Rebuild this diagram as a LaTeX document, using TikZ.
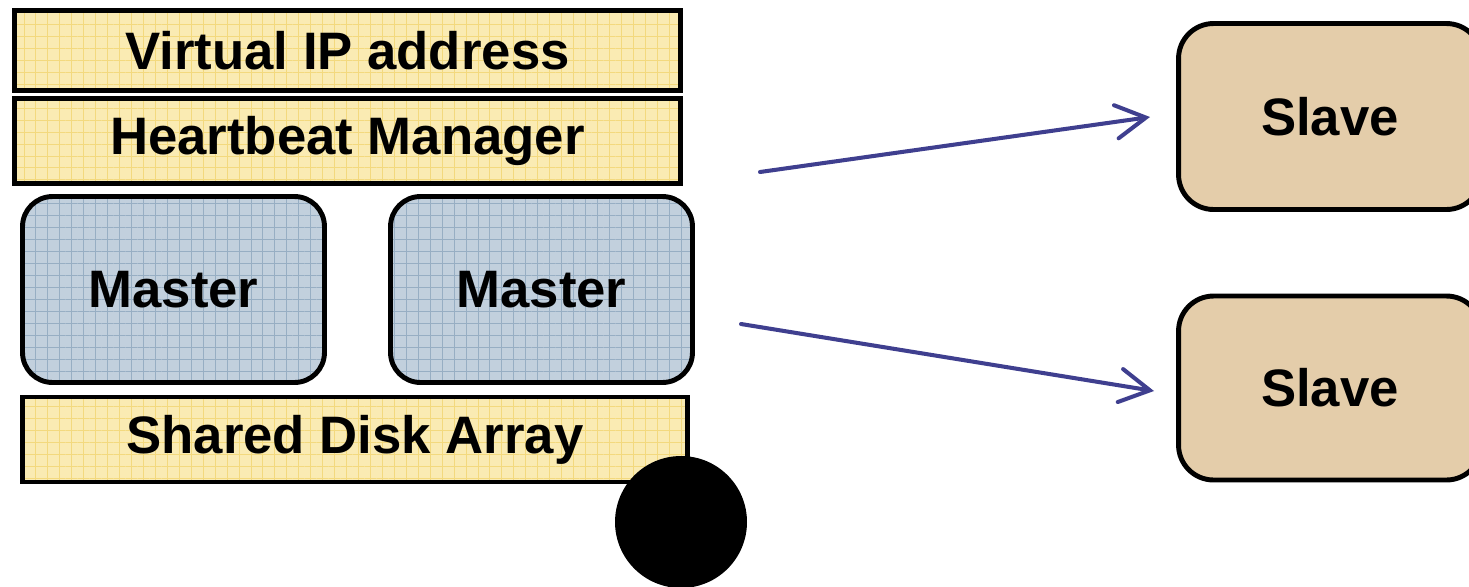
\documentclass[tikz,border=0pt]{standalone}
\usepackage{fontspec}
\setsansfont{Liberation Sans}
\usepackage{tikz}
\usetikzlibrary{arrows.meta}
\usetikzlibrary{patterns.meta}

\definecolor{boxyellow}{HTML}{FAEBB3}
\definecolor{gridyellow}{HTML}{F3D97E}
\definecolor{boxblue}{HTML}{C2D0DD}
\definecolor{gridblue}{HTML}{97AEC3}
\definecolor{boxtan}{HTML}{E4CDAA}
\definecolor{arrowblue}{HTML}{3F3F8F}

\begin{document}
\begin{tikzpicture}[x=0.02cm, y=-0.02cm, line width=2.8pt,
        grid_fill/.style 2 args={preaction={fill=#1},
                           preaction={pattern={Lines[angle=0,distance=6.8pt,line width=0.4pt]},pattern color=#2},
                           preaction={pattern={Lines[angle=90,distance=6.8pt,line width=0.4pt]},pattern color=#2}},
        box_style/.style={rectangle,draw=black,grid_fill={boxyellow}{gridyellow},minimum width=13.32cm,font=\sffamily\bfseries\fontsize{30}{35}\selectfont},
        master_style/.style={rectangle,rounded corners=0.6cm,draw=black,grid_fill={boxblue}{gridblue},minimum width=6.04cm,minimum height=3.72cm,font=\sffamily\bfseries\fontsize{30}{35}\selectfont},
        slave_style/.style={rectangle,rounded corners=0.7cm,draw=black,fill=boxtan,minimum width=6.06cm,font=\sffamily\bfseries\fontsize{30}{35}\selectfont},
        edge_style/.style={draw=arrowblue, line width=2.3pt, line cap=round, -{Straight Barb[length=17pt,width=19pt,line cap=round]}}]

        \useasboundingbox (0,0) rectangle (1469,586);

        \node [box_style,minimum height=1.6cm](n1) at (347.5,50.5) {Virtual IP address};

        \node [box_style,minimum height=1.7cm](n2) at (347.5,141) {Heartbeat Manager};

        \node [master_style](n3) at (173.5,289.5) {Master};

        \node [master_style](n4) at (541.5,289.5) {Master};

        \node [box_style,minimum width=13.3cm,minimum height=1.7cm](n5) at (355,439.5) {Shared Disk Array};

        \node [circle,fill=black,minimum size=2.64cm,inner sep=0pt](n6) at (681,522) {};

        \node [slave_style,minimum height=3.72cm](n7) at (1330,116.5) {Slave};

        \node [slave_style,minimum height=3.68cm](n8) at (1330,388) {Slave};

        \coordinate (c1) at (760,172);
        \coordinate (c2) at (1150,117);
        \coordinate (c3) at (741,324);
        \coordinate (c4) at (1154,391);

        \draw [edge_style] (c1) -- (c2);

        \draw [edge_style] (c3) -- (c4);

        \end{tikzpicture}
\end{document}
